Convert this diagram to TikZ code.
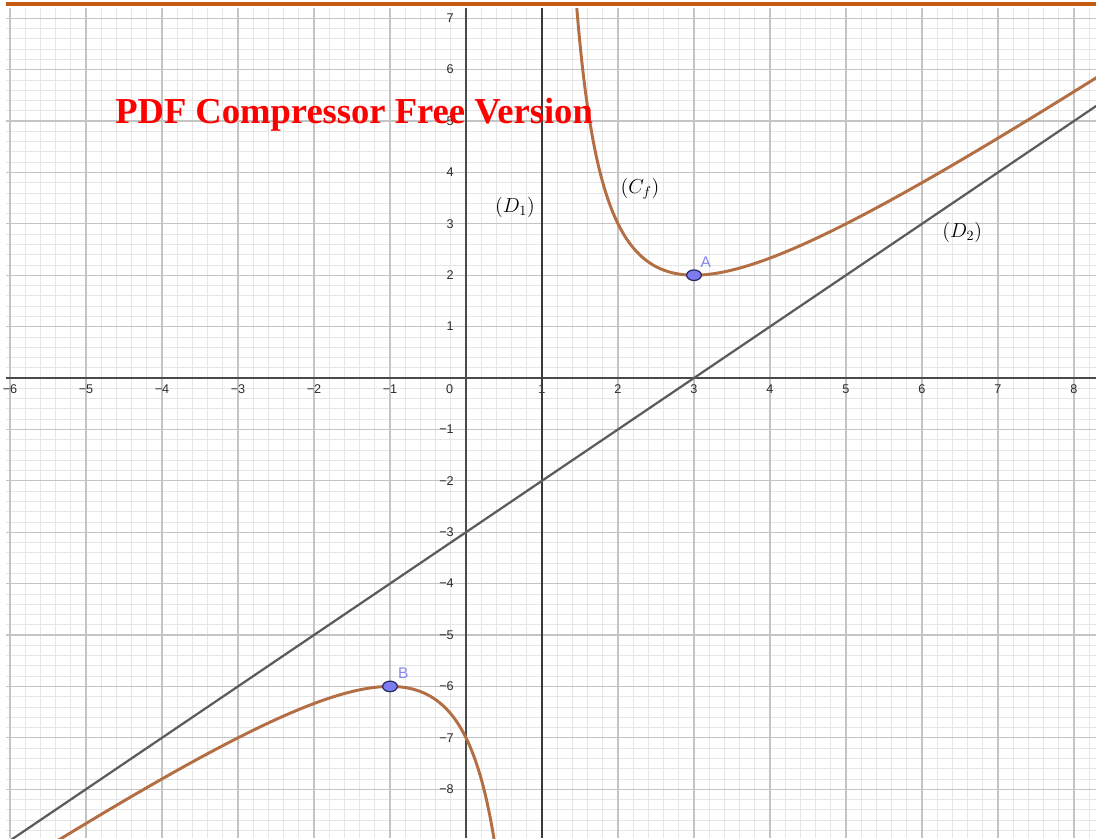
\documentclass[tikz,border=0pt]{standalone}
\usepackage{fontspec}
\setsansfont{Liberation Sans}
\newfontfamily\wmfont{Liberation Serif}
\usepackage{tikz}
\usetikzlibrary{positioning,shapes.geometric}
\definecolor{gridgray}{HTML}{C4C4C4}
\definecolor{gridlight}{HTML}{E6E6E6}
\definecolor{axisgray}{HTML}{4A4A4A}
\definecolor{asymdark}{HTML}{3A3A3A}
\definecolor{asymgray}{HTML}{5C5C5C}
\definecolor{curvebrown}{HTML}{B46E44}
\definecolor{ptfill}{HTML}{7C7CF0}
\definecolor{ptedge}{HTML}{2A2A66}
\definecolor{ptlabelblue}{HTML}{8585F2}
\definecolor{ticktext}{HTML}{2B2B2B}
\definecolor{barorange}{HTML}{C55A11}
\definecolor{wmred}{HTML}{FF0000}
\tikzset{
  minorgrid/.style={draw=gridlight,line width=0.5pt},
  majorgrid/.style={draw=gridgray,line width=0.8pt},
  axisline/.style={draw=axisgray,line width=1.1pt},
  asymline/.style={draw=asymdark,line width=2.1pt},
  obliqueline/.style={draw=asymgray,line width=1.6pt},
  graphline/.style={draw=curvebrown,line width=2.1pt},
  topbar/.style={draw=barorange,line width=2.9pt},
  xtick/.style={anchor=north,inner sep=0pt,yshift=-4.5pt,
    font=\sffamily\fontsize{9}{10}\selectfont,text=ticktext},
  ytick/.style={anchor=east,inner sep=0pt,xshift=-8.5pt,
    font=\sffamily\fontsize{9}{10}\selectfont,text=ticktext},
  ptdot/.style={ellipse,draw=ptedge,fill=ptfill,line width=0.9pt,
    minimum width=10.5pt,minimum height=7.5pt,inner sep=0pt},
  ptlabel/.style={font=\sffamily\fontsize{11}{12}\selectfont,text=ptlabelblue,inner sep=0pt},
  curvelabel/.style={font=\fontsize{14.4}{17}\selectfont,inner sep=0pt},
  watermark/.style={font=\wmfont\bfseries\fontsize{26}{30}\selectfont,text=wmred,inner sep=0pt}
}

\begin{document}
\begin{tikzpicture}[x=1.9cm,y=1.285cm]
  \useasboundingbox (-6.1316,-8.9494) rectangle (8.2895,7.3541);
  % grid
  \draw[minorgrid,step=0.2] (-6.053,-8.9494) grid (8.2895,7.198);
  \draw[majorgrid,step=1] (-6.053,-8.9494) grid (8.2895,7.198);
  \draw[topbar] (-6.053,7.282) -- (8.2895,7.282);
  % axes
  \draw[axisline] (-6.053,0) -- (8.2895,0);
  \draw[axisline] (0,-8.9494) -- (0,7.198);
  \foreach \i in {1,...,6} \node[xtick] (xm\i) at (-\i,0) {−\i};
  \foreach \i in {1,...,8} \node[xtick] (xp\i) at (\i,0) {\i};
  \foreach \j in {1,...,8} \node[ytick] (ym\j) at (0,-\j) {−\j};
  \foreach \j in {1,...,7} \node[ytick] (yp\j) at (0,\j) {\j};
  \node[xtick,anchor=north east,xshift=-9pt] (orig) at (0,0) {0};
  % asymptotes and graph
  \begin{scope}
    \clip (-6.053,-8.9494) rectangle (8.2895,7.198);
    \draw[asymline] (1,-8.9494) -- (1,7.198);
    \draw[obliqueline] (-6.3,-9.3) -- (8.5,5.5);
    \draw[graphline,domain=1.43:8.35,samples=220,smooth] plot (\x,{\x-3+4/(\x-1)});
    \draw[graphline,domain=-6.2:0.4,samples=160,smooth] plot (\x,{\x-3+4/(\x-1)});
  \end{scope}
  \node[ptdot] (A) at (3,2) {};
  \node[ptdot] (B) at (-1,-6) {};
  \node[ptlabel,above right=2.2pt and 0.5pt of A] (Alab) {A};
  \node[ptlabel,above right=2.2pt and 1.5pt of B] (Blab) {B};
  \node[curvelabel] (D1lab) at (0.645,3.31) {$(D_1)$};
  \node[curvelabel] (Cflab) at (2.29,3.68) {$(C_f)$};
  \node[curvelabel] (D2lab) at (6.53,2.84) {$(D_2)$};
  \node[watermark,anchor=base west] (wm) at (-4.618,4.961) {PDF Compressor Free Version};
\end{tikzpicture}
\end{document}
